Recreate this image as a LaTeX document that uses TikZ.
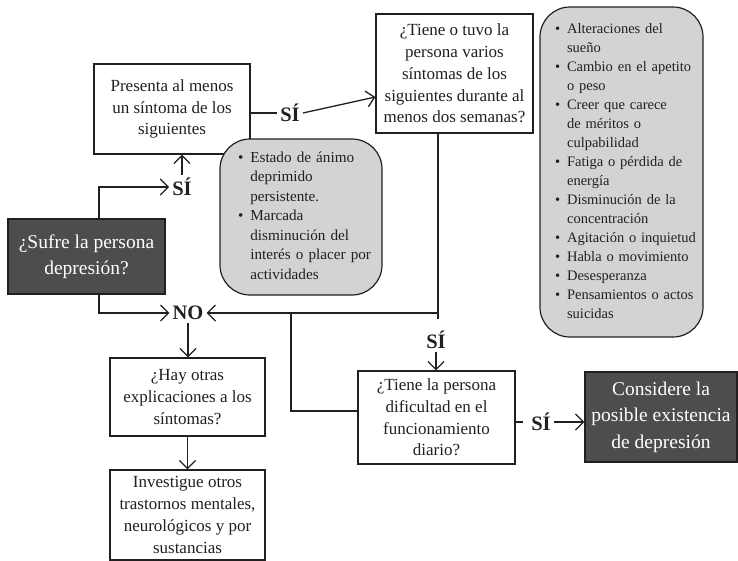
\documentclass[tikz,border=0pt]{standalone}
\usepackage{fontspec}
\setmainfont{Liberation Serif}
\usetikzlibrary{arrows.meta,calc}
\definecolor{ink}{HTML}{231F20}
\definecolor{darkfill}{HTML}{4D4D4F}
\definecolor{palefill}{HTML}{D2D3D5}
\newcommand{\bul}{\textbullet}
\begin{document}
\begin{tikzpicture}[x=1pt,y=-1pt,
  box/.style={draw=ink, line width=1.2pt, fill=white, align=center, inner sep=0pt,
    text=ink, font=\fontsize{17}{21.8}\selectfont},
  darkbox/.style={draw=ink, line width=1.2pt, fill=darkfill, align=center, inner sep=0pt,
    text=white, font=\fontsize{19.5}{26.5}\selectfont},
  graybox/.style={draw=ink, line width=1.2pt, fill=palefill, rounded corners=30pt,
    align=left, inner ysep=0pt, text=ink, font=\fontsize{14.5}{19}\selectfont},
  lbl/.style={font=\bfseries\fontsize{20.5}{22}\selectfont, text=ink, inner sep=3pt},
  conn/.style={draw=ink, line width=1.3pt},
  arr/.style={conn, -{Straight Barb[length=8pt,width=16pt,line width=1.3pt]}}
]
\useasboundingbox (0,0) rectangle (738,560);

% boxes
\node[box, minimum width=156pt, minimum height=90pt] (b1) at (172,109)
  {Presenta al menos\\un síntoma de los\\siguientes};
\node[graybox, minimum width=162pt, minimum height=156pt, text width=126pt, inner xsep=18pt,
  font=\fontsize{15.2}{19.5}\selectfont]
  (g1) at (301,217)
  {\begin{tabular}{@{}l@{\hspace{7pt}}l@{}}
   \bul & Estado de ánimo\\
        & deprimido\\
        & persistente.\\
   \bul & Marcada\\
        & disminución del\\
        & interés o placer por\\
        & actividades
   \end{tabular}};
\node[box, minimum width=157pt, minimum height=119pt] (b2) at (454.5,73.5)
  {¿Tiene o tuvo la\\persona varios\\síntomas de los\\siguientes durante al\\menos dos semanas?};
\node[graybox, minimum width=163pt, minimum height=330pt, text width=133pt, inner xsep=15pt]
  (g2) at (621.5,172)
  {\begin{tabular}{@{}l@{\hspace{7pt}}l@{}}
   \bul & Alteraciones del\\
        & sueño\\
   \bul & Cambio en el apetito\\
        & o peso\\
   \bul & Creer que carece\\
        & de méritos o\\
        & culpabilidad\\
   \bul & Fatiga o pérdida de\\
        & energía\\
   \bul & Disminución de la\\
        & concentración\\
   \bul & Agitación o inquietud\\
   \bul & Habla o movimiento\\
   \bul & Desesperanza\\
   \bul & Pensamientos o actos\\
        & suicidas
   \end{tabular}};
\node[darkbox, minimum width=157pt, minimum height=75pt] (d1) at (86.5,256.5)
  {¿Sufre la persona\\depresión?};
\node[box, minimum width=157pt, minimum height=93pt] (b3) at (436.5,417.5)
  {¿Tiene la persona\\dificultad en el\\funcionamiento\\diario?};
\node[darkbox, minimum width=152pt, minimum height=90pt] (d2) at (661,417)
  {Considere la\\posible existencia\\de depresión};
\node[box, minimum width=155pt, minimum height=78pt] (b4) at (187.5,397)
  {¿Hay otras\\explicaciones a los\\síntomas?};
\node[box, minimum width=155pt, minimum height=90pt] (b5) at (187.5,515)
  {Investigue otros\\trastornos mentales,\\neurológicos y por\\sustancias};

% labels
\node[lbl] (sa) at (182,187) {SÍ};
\node[lbl] (sb) at (290,113) {SÍ};
\node[lbl] (no) at (188,313) {NO};
\node[lbl] (sc) at (436,340) {SÍ};
\node[lbl] (sd) at (541,422) {SÍ};

% coordinates for bends
\coordinate (c1) at (99,186);
\coordinate (c2) at (99,313);
\coordinate (j1) at (438,319);
\coordinate (j2) at (291,313);

% connectors
\draw[arr] (d1.north -| c1) |- (sa.west);
\draw[arr] (sa.north) -- (sa.north |- b1.south);
\draw[arr] (d1.south -| c2) |- (no.west);
\draw[conn] (b1.east |- sb) -- (sb.west);
\draw[arr] (sb.east) -- ($(b2.west)+(0,23.5)$);
\draw[conn] (b2.south -| j1) -- (j1);
\draw[arr] (j1 |- no.east) -- (no.east);
\draw[conn] (j2) |- ($(b3.west)+(0,-6.5)$);
\draw[arr] (sc.south) -- (sc.south |- b3.north);
\draw[conn, shorten >=5pt] (b3.east |- sd) -- (sd.west);
\draw[arr] (sd.east) -- (d2.west |- sd);
\draw[arr] (no.south) -- (no.south |- b4.north);
\draw[arr] (b4.south) -- (b5.north);
\end{tikzpicture}
\end{document}
